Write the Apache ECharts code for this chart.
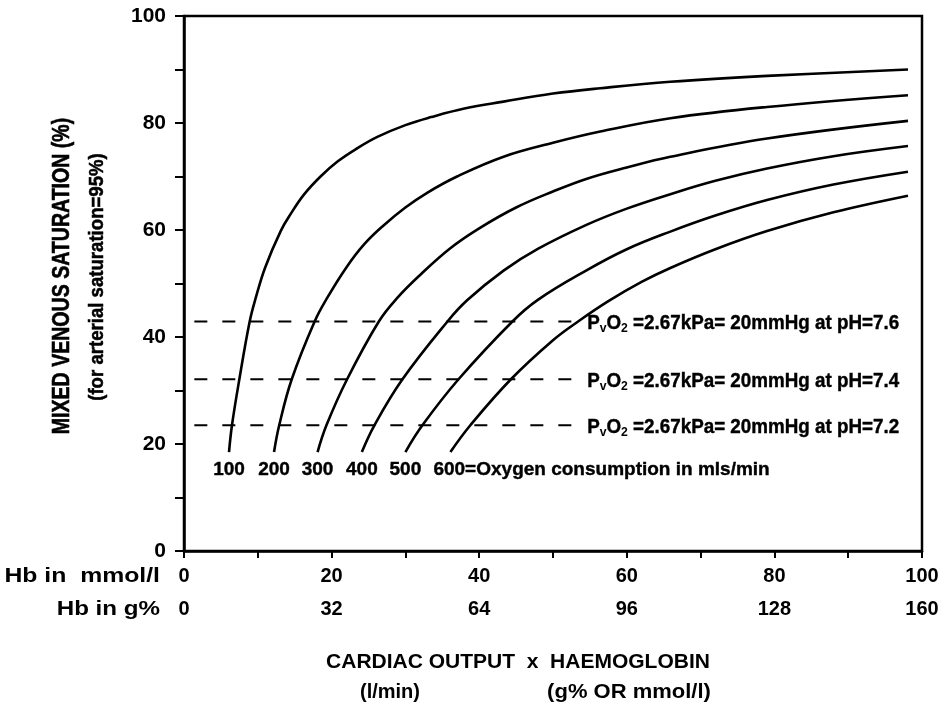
<!DOCTYPE html>
<html>
<head>
<meta charset="utf-8">
<script src="https://cdn.jsdelivr.net/npm/echarts@6/dist/echarts.min.js"></script>
<style>
  html, body { margin: 0; padding: 0; background: #fff; }
  #chart { width: 948px; height: 708px; }
</style>
</head>
<body>
<div id="chart"></div>
<script>
// Oxygen consumption (ml/min) for each curve
const oxygenConsumption = [100, 200, 300, 400, 500, 600];

// Each curve: [cardiac output x Hb (mmol/l), mixed venous saturation %]
const curve100 = [[6.1, 18.5], [6.5, 23.5], [7.5, 32.1], [8.9, 42.9], [9.7, 47.2], [11.0, 53.0], [13.1, 59.8], [14.5, 63.1], [16.3, 66.7], [18.5, 70.0], [20.8, 72.8], [23.5, 75.3], [26.2, 77.4], [30.0, 79.6], [33.5, 81.1], [38.0, 82.7], [43.3, 84.0], [50.0, 85.5], [56.4, 86.5], [65.9, 87.7], [79.0, 88.8], [98.1, 90.0]];
const curve200 = [[12.2, 18.5], [12.9, 23.5], [14.6, 32.1], [17.7, 42.9], [19.4, 47.3], [22.0, 53.0], [24.4, 57.3], [27.0, 60.8], [30.0, 64.2], [33.0, 67.0], [37.0, 70.0], [43.3, 73.7], [50.0, 76.3], [56.4, 78.4], [65.9, 80.9], [79.0, 83.0], [98.1, 85.2]];
const curve300 = [[18.1, 18.5], [19.3, 23.5], [22.1, 32.1], [26.4, 42.9], [28.9, 47.3], [32.0, 51.6], [36.0, 56.5], [40.0, 60.3], [45.0, 64.2], [50.0, 67.2], [54.6, 69.6], [60.0, 71.7], [65.9, 73.7], [79.0, 77.1], [98.1, 80.4]];
const curve400 = [[24.1, 18.5], [25.8, 23.5], [29.6, 32.1], [35.7, 42.9], [38.4, 46.9], [43.3, 52.4], [48.0, 56.5], [54.6, 61.0], [60.0, 64.0], [65.9, 66.7], [72.0, 69.2], [79.0, 71.5], [88.0, 73.8], [98.1, 75.7]];
const curve500 = [[30.0, 18.5], [32.3, 23.5], [37.2, 32.1], [44.5, 42.9], [47.9, 46.9], [54.6, 52.5], [60.0, 56.4], [65.9, 59.7], [72.0, 62.7], [79.0, 65.6], [88.0, 68.5], [98.1, 70.9]];
const curve600 = [[36.1, 18.5], [38.8, 23.5], [44.3, 32.1], [50.0, 39.4], [53.4, 42.9], [57.5, 46.7], [62.0, 50.3], [65.9, 52.9], [72.0, 56.4], [79.0, 59.8], [88.0, 63.3], [98.1, 66.4]];
const curves = [curve100, curve200, curve300, curve400, curve500, curve600];

// Saturation at PvO2 = 2.67 kPa for three pH values
const pvo2Saturation = [42.9, 32.1, 23.5];
const pHValues = ['7.6', '7.4', '7.2'];
const pvo2LineSpan = [1.4, 53.0];

// Axis ranges
const hbMmolRange = [0, 100];
const hbGramRange = [0, 160];
const saturationRange = [0, 100];

const sans = "'Liberation Sans', Arial, Helvetica, sans-serif";

const chart = echarts.init(document.getElementById('chart'), null, { renderer: 'canvas' });

const curveSeries = curves.map((pts, i) => ({
  type: 'line',
  name: String(oxygenConsumption[i]),
  xAxisIndex: 0,
  smooth: 0.4,
  symbol: 'circle',
  symbolSize: 1,
  showSymbol: true,
  itemStyle: { color: 'rgba(0,0,0,0)' },
  lineStyle: { color: '#000', width: 2.6 },
  silent: true,
  z: 3,
  data: pts.map((p, j) => j === 0 ? {
    value: p,
    label: {
      show: true,
      position: 'bottom',
      distance: 8,
      color: '#000',
      fontFamily: sans,
      fontWeight: 'bold',
      fontSize: 19,
      textBorderColor: '#000',
      textBorderWidth: 0.4,
      align: i === curves.length - 1 ? 'left' : 'center',
      offset: i === curves.length - 1 ? [-17, 0] : [0, 0],
      formatter: i === curves.length - 1
        ? oxygenConsumption[i] + '=Oxygen consumption in mls/min'
        : String(oxygenConsumption[i])
    }
  } : p)
}));

const pvo2Series = pvo2Saturation.map(s => ({
  type: 'line',
  xAxisIndex: 0,
  symbol: 'none',
  silent: true,
  lineStyle: { color: '#000', width: 2, type: [13, 15] },
  z: 2,
  data: [[pvo2LineSpan[0], s], [pvo2LineSpan[1], s]]
}));

const textGraphics = [
  {
    id: 'ytitle', type: 'text', x: 63, y: 276, rotation: Math.PI / 2, scaleX: 0.85,
    style: {
      text: 'MIXED VENOUS SATURATION (%)', align: 'center', verticalAlign: 'middle',
      fill: '#000', stroke: '#000', lineWidth: 0.6, font: 'bold 23px ' + sans
    }
  },
  {
    id: 'ysub', type: 'text', x: 97, y: 277, rotation: Math.PI / 2, scaleX: 0.93,
    style: {
      text: '(for arterial saturation=95%)', align: 'center', verticalAlign: 'middle',
      fill: '#000', stroke: '#000', lineWidth: 0.5, font: 'bold 20px ' + sans
    }
  },
  {
    id: 'hbmmol', type: 'text', x: 160, y: 576, scaleX: 1.18,
    style: { text: 'Hb in  mmol/l', align: 'right', verticalAlign: 'middle', fill: '#000', font: 'bold 21px ' + sans }
  },
  {
    id: 'hbgram', type: 'text', x: 160, y: 609, scaleX: 1.15,
    style: { text: 'Hb in g%', align: 'right', verticalAlign: 'middle', fill: '#000', font: 'bold 21px ' + sans }
  },
  {
    id: 'xtitle', type: 'text', x: 518, y: 662,
    style: { text: 'CARDIAC OUTPUT  x  HAEMOGLOBIN', align: 'center', verticalAlign: 'middle', fill: '#000', font: 'bold 21px ' + sans }
  },
  {
    id: 'xunit1', type: 'text', x: 390, y: 692,
    style: { text: '(l/min)', align: 'center', verticalAlign: 'middle', fill: '#000', font: 'bold 20px ' + sans }
  },
  {
    id: 'xunit2', type: 'text', x: 629, y: 692, scaleX: 1.1,
    style: { text: '(g% OR mmol/l)', align: 'center', verticalAlign: 'middle', fill: '#000', font: 'bold 20px ' + sans }
  }
];

const option = {
  animation: false,
  backgroundColor: '#fff',
  grid: {
    left: 184, right: 26, top: 16, bottom: 157,
    show: true, borderColor: '#000', borderWidth: 2.5, backgroundColor: 'transparent'
  },
  xAxis: [
    {
      type: 'value',
      min: hbMmolRange[0], max: hbMmolRange[1], interval: 10,
      position: 'bottom',
      axisLine: { show: true, onZero: false, lineStyle: { color: '#000', width: 2.5 } },
      axisTick: { show: true, length: 7, lineStyle: { color: '#000', width: 2 } },
      splitLine: { show: false },
      axisLabel: {
        margin: 15, color: '#000', fontFamily: sans, fontWeight: 'bold', fontSize: 20,
        formatter: v => (v % 20 === 0 ? String(v) : '')
      }
    },
    {
      type: 'value',
      min: hbGramRange[0], max: hbGramRange[1], interval: 32,
      position: 'bottom',
      offset: 33,
      axisLine: { show: false },
      axisTick: { show: false },
      splitLine: { show: false },
      axisLabel: {
        margin: 15, color: '#000', fontFamily: sans, fontWeight: 'bold', fontSize: 20
      }
    }
  ],
  yAxis: {
    type: 'value',
    min: saturationRange[0], max: saturationRange[1], interval: 10,
    axisLine: { show: true, lineStyle: { color: '#000', width: 2.5 } },
    axisTick: { show: true, length: 9, lineStyle: { color: '#000', width: 2 } },
    splitLine: { show: false },
    axisLabel: {
      margin: 18, color: '#000', fontFamily: sans, fontWeight: 'bold', fontSize: 21,
      formatter: v => (v % 20 === 0 ? String(v) : '')
    }
  },
  graphic: textGraphics,
  series: curveSeries.concat(pvo2Series)
};

chart.setOption(option);

// PvO2 annotations placed just past the end of each dashed line
const pvo2Labels = pvo2Saturation.map((s, i) => {
  const pt = chart.convertToPixel({ xAxisIndex: 0, yAxisIndex: 0 }, [pvo2LineSpan[1], s]);
  return {
    id: 'pvo2-' + i, type: 'text', x: pt[0] + 12, y: pt[1] + 2, scaleX: 0.94,
    style: {
      text: '{m|P}{s|v}{m|O}{s|2}{m| =2.67kPa= 20mmHg at pH=' + pHValues[i] + '}',
      align: 'left', verticalAlign: 'middle',
      rich: {
        m: { fontFamily: sans, fontWeight: 'bold', fontSize: 20, fill: '#000', stroke: '#000', lineWidth: 0.4 },
        s: { fontFamily: sans, fontWeight: 'bold', fontSize: 13, fill: '#000', padding: [10, 0, 0, 0] }
      }
    }
  };
});
chart.setOption({ graphic: textGraphics.concat(pvo2Labels) });
</script>
</body>
</html>
